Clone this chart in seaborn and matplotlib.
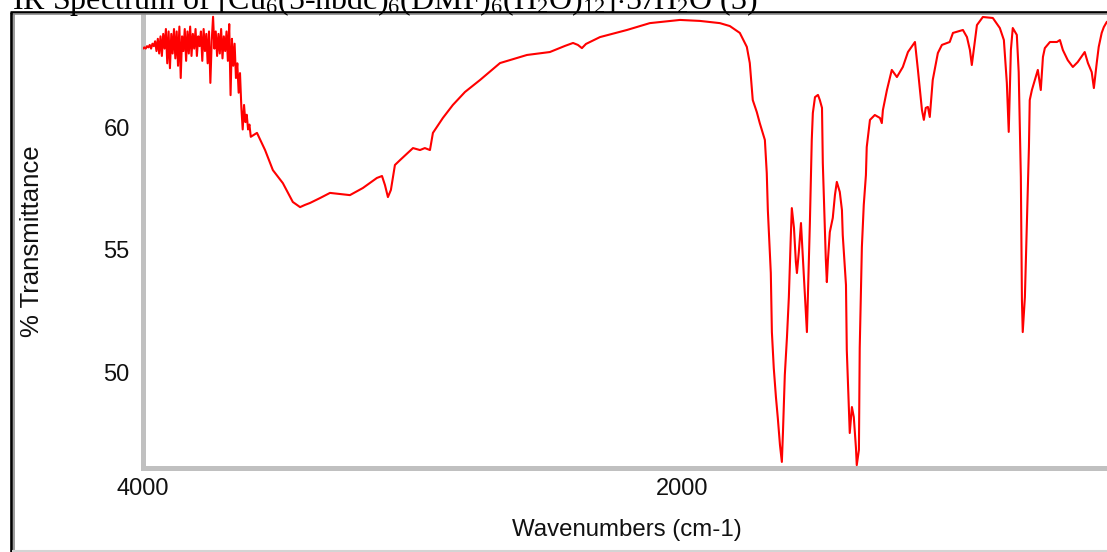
import numpy as np
import matplotlib
matplotlib.use("Agg")
import matplotlib.pyplot as plt
from matplotlib.lines import Line2D
from matplotlib.ticker import FixedLocator, MultipleLocator
import seaborn as sns
import pandas as pd

# ---------------- data ----------------
# noisy O-H region, 4000 -> 3600 cm-1 every 5 cm-1
noisy_wn = list(range(4000, 3595, -5))
noisy_t = [63.2, 63.25, 63.2, 63.3, 63.25, 63.35, 63.2, 63.4, 63.3, 63.5,
           63.1, 63.6, 63.0, 63.7, 62.9, 63.8, 63.2, 64.0, 62.6, 63.9,
           62.4, 63.8, 63.0, 64.0, 62.8, 63.9, 62.5, 64.1, 62.0, 63.7,
           63.1, 64.0, 62.7, 63.9, 63.0, 64.1, 62.9, 63.8, 63.2, 64.0,
           62.9, 63.7, 63.3, 63.9, 62.7, 64.0, 63.1, 63.8, 62.6, 63.9,
           61.8, 63.5, 64.5, 63.2, 63.9, 62.9, 63.8, 63.0, 64.0, 62.8,
           63.7, 63.1, 63.9, 62.7, 64.2, 61.3, 63.6, 62.5, 63.4, 62.0,
           62.6, 61.4, 62.2, 60.8, 59.9, 60.9, 60.2, 60.5, 59.9, 60.1,
           59.6]

main_wn = [3577, 3547, 3518, 3481, 3444, 3417, 3399, 3380, 3343, 3306,
           3232, 3184, 3132, 3113, 3102, 3091, 3080, 3065, 3046, 2998,
           2972, 2954, 2935, 2924, 2887, 2850, 2805, 2749, 2675, 2575,
           2490, 2434, 2404, 2386, 2371, 2356, 2304, 2204, 2119, 2007,
           1933, 1859, 1822, 1785, 1759, 1748, 1737, 1722, 1711, 1692,
           1685, 1681, 1670, 1666, 1659, 1651, 1644, 1636, 1629, 1625,
           1618, 1610, 1603, 1596, 1592, 1584, 1577, 1573, 1566, 1558,
           1551, 1544, 1536, 1532, 1525, 1518, 1514, 1506, 1495, 1488,
           1480, 1477, 1466, 1462, 1458, 1451, 1440, 1432, 1425, 1414,
           1406, 1403, 1391, 1388, 1380, 1377, 1369, 1362, 1354, 1351,
           1343, 1340, 1332, 1325, 1317, 1314, 1302, 1284, 1265, 1258,
           1254, 1239, 1221, 1202, 1180, 1161, 1135, 1124, 1109, 1102,
           1095, 1087, 1080, 1069, 1050, 1035, 1006, 994, 957, 942,
           931, 924, 917, 905, 883, 846, 820, 805, 794, 787,
           779, 772, 757, 750, 742, 738, 735, 727, 720, 712,
           709, 701, 690, 679, 668, 660, 653, 634, 608, 597,
           586, 568, 549, 531, 505, 493, 479, 471, 460, 453,
           442, 434, 423, 400]
main_t = [59.76, 59.06, 58.24, 57.71, 56.94, 56.73, 56.82, 56.90, 57.10, 57.31,
          57.22, 57.51, 57.92, 58.00, 57.63, 57.14, 57.43, 58.45, 58.65, 59.14,
          59.06, 59.14, 59.06, 59.76, 60.37, 60.90, 61.43, 61.92, 62.61, 62.94,
          63.06, 63.31, 63.43, 63.35, 63.22, 63.39, 63.67, 63.96, 64.24, 64.37,
          64.33, 64.24, 64.12, 63.84, 63.27, 62.61, 61.10, 60.61, 60.16, 59.47,
          58.12, 56.61, 54.04, 51.63, 50.16, 48.98, 48.12, 47.02, 46.33, 47.51,
          49.88, 51.43, 53.06, 55.47, 56.69, 55.88, 54.49, 54.04, 54.90, 56.08,
          54.69, 53.22, 51.63, 53.22, 56.08, 59.47, 60.57, 61.22, 61.31, 61.10,
          60.78, 58.53, 54.65, 53.67, 54.57, 55.71, 56.29, 57.22, 57.76, 57.35,
          56.61, 55.59, 53.55, 50.90, 48.37, 47.51, 48.57, 48.16, 46.90, 46.20,
          46.82, 50.98, 55.10, 56.82, 58.04, 59.18, 60.29, 60.49, 60.37, 60.16,
          60.69, 61.51, 62.33, 62.04, 62.45, 63.06, 63.47, 62.33, 60.69, 60.29,
          60.78, 60.82, 60.41, 61.92, 63.02, 63.35, 63.47, 63.84, 63.96, 63.67,
          63.14, 62.53, 63.14, 64.16, 64.49, 64.45, 64.04, 63.55, 61.80, 59.80,
          63.14, 64.04, 63.76, 62.24, 57.96, 52.94, 51.63, 53.06, 55.92, 59.18,
          61.10, 61.51, 61.92, 62.33, 61.51, 62.86, 63.22, 63.47, 63.47, 63.55,
          63.14, 62.73, 62.45, 62.65, 63.06, 62.61, 62.24, 61.59, 62.65, 63.27,
          63.84, 64.08, 64.29, 64.40]

wavenumber = noisy_wn + main_wn
transmittance = noisy_t + main_t

x_major = [4000, 2000]
x_minor = [3500, 3000, 2500, 1500, 1000, 500]
y_major = [50, 55, 60]

title = (r"IR Spectrum of [Cu$_6$(5-nbdc)$_6$(DMF)$_6$(H$_2$O)$_{12}$]"
         r"$\cdot$57H$_2$O (3)")
xlabel = "Wavenumbers (cm-1)"
ylabel = "% Transmittance"

# ---------------- plotting ----------------
sns.set_style("white")
plt.rcParams["font.family"] = ["Liberation Sans", "DejaVu Sans"]
plt.rcParams["mathtext.fontset"] = "custom"
plt.rcParams["mathtext.rm"] = "Liberation Serif"
plt.rcParams["mathtext.it"] = "Liberation Serif:italic"

W, H = 1107, 552
fig = plt.figure(figsize=(W / 100, H / 100), dpi=100)
fig.patch.set_facecolor("white")

left_px, right_px, top_px, bot_px = 143, 1113, 14.5, 468
ax = fig.add_axes([left_px / W, 1 - bot_px / H,
                   (right_px - left_px) / W, (bot_px - top_px) / H])

df = pd.DataFrame({"wn": wavenumber, "T": transmittance})
sns.lineplot(data=df, x="wn", y="T", sort=False, estimator=None,
             color="#ff0000", linewidth=1.5, ax=ax, zorder=3)

ax.set_xlim(4000, 400)
ax.set_ylim(46.082, 64.592)

for s in ["top", "right"]:
    ax.spines[s].set_visible(False)
for s in ["left", "bottom"]:
    ax.spines[s].set_color("#c0c0c0")
    ax.spines[s].set_linewidth(3.6)
    ax.spines[s].set_zorder(1)

ax.xaxis.set_major_locator(FixedLocator(x_major))
ax.xaxis.set_minor_locator(FixedLocator(x_minor))
ax.yaxis.set_major_locator(FixedLocator(y_major))
ax.yaxis.set_minor_locator(MultipleLocator(1))
ax.xaxis.set_zorder(2)
ax.yaxis.set_zorder(2)

ax.tick_params(axis="both", which="major", direction="out", length=4.5,
               width=1.2, color="black", labelsize=17, labelcolor="#111111")
ax.tick_params(axis="both", which="minor", direction="inout", length=2.2,
               width=1.3, color="black")
ax.tick_params(axis="x", which="major", pad=3)
ax.tick_params(axis="y", which="major", pad=5)
ax.set_xticklabels([str(v) for v in x_major])
ax.set_yticklabels([str(v) for v in y_major])

ax.set_xlabel(xlabel, fontsize=17.3, color="#111111")
ax.xaxis.label.set_va("center")
ax.xaxis.set_label_coords((627 - left_px) / (right_px - left_px),
                          -(530 - bot_px) / (bot_px - top_px))
ax.set_ylabel(ylabel, fontsize=18.5, color="#111111")
ax.yaxis.label.set_va("center")
ax.yaxis.set_label_coords((32 - left_px) / (right_px - left_px),
                          (bot_px - 241) / (bot_px - top_px))

# title, partly cut off at the top edge (as in the reference)
fig.text(12 / W, 1 - 8.5 / H, title, fontsize=23, family="Liberation Serif",
         ha="left", va="baseline", color="black")

# window frame (sunken border)
def fl(x0, y0, x1, y1, color, lw):
    fig.add_artist(Line2D([x0 / W, x1 / W], [1 - y0 / H, 1 - y1 / H],
                          transform=fig.transFigure, color=color,
                          linewidth=lw, solid_capstyle="butt"))

fl(10, 12.3, W, 12.3, "black", 1.9)
fl(12, 14.2, W, 14.2, "#8a8a8a", 1.2)
fl(11.2, 11.5, 11.2, H, "black", 1.9)
fl(13.6, 13.5, 13.6, H, "#8a8a8a", 1.2)
fl(12, 550.5, W, 550.5, "#d4d4d4", 1.5)

fig.savefig("out.png", dpi=100, facecolor="white")
